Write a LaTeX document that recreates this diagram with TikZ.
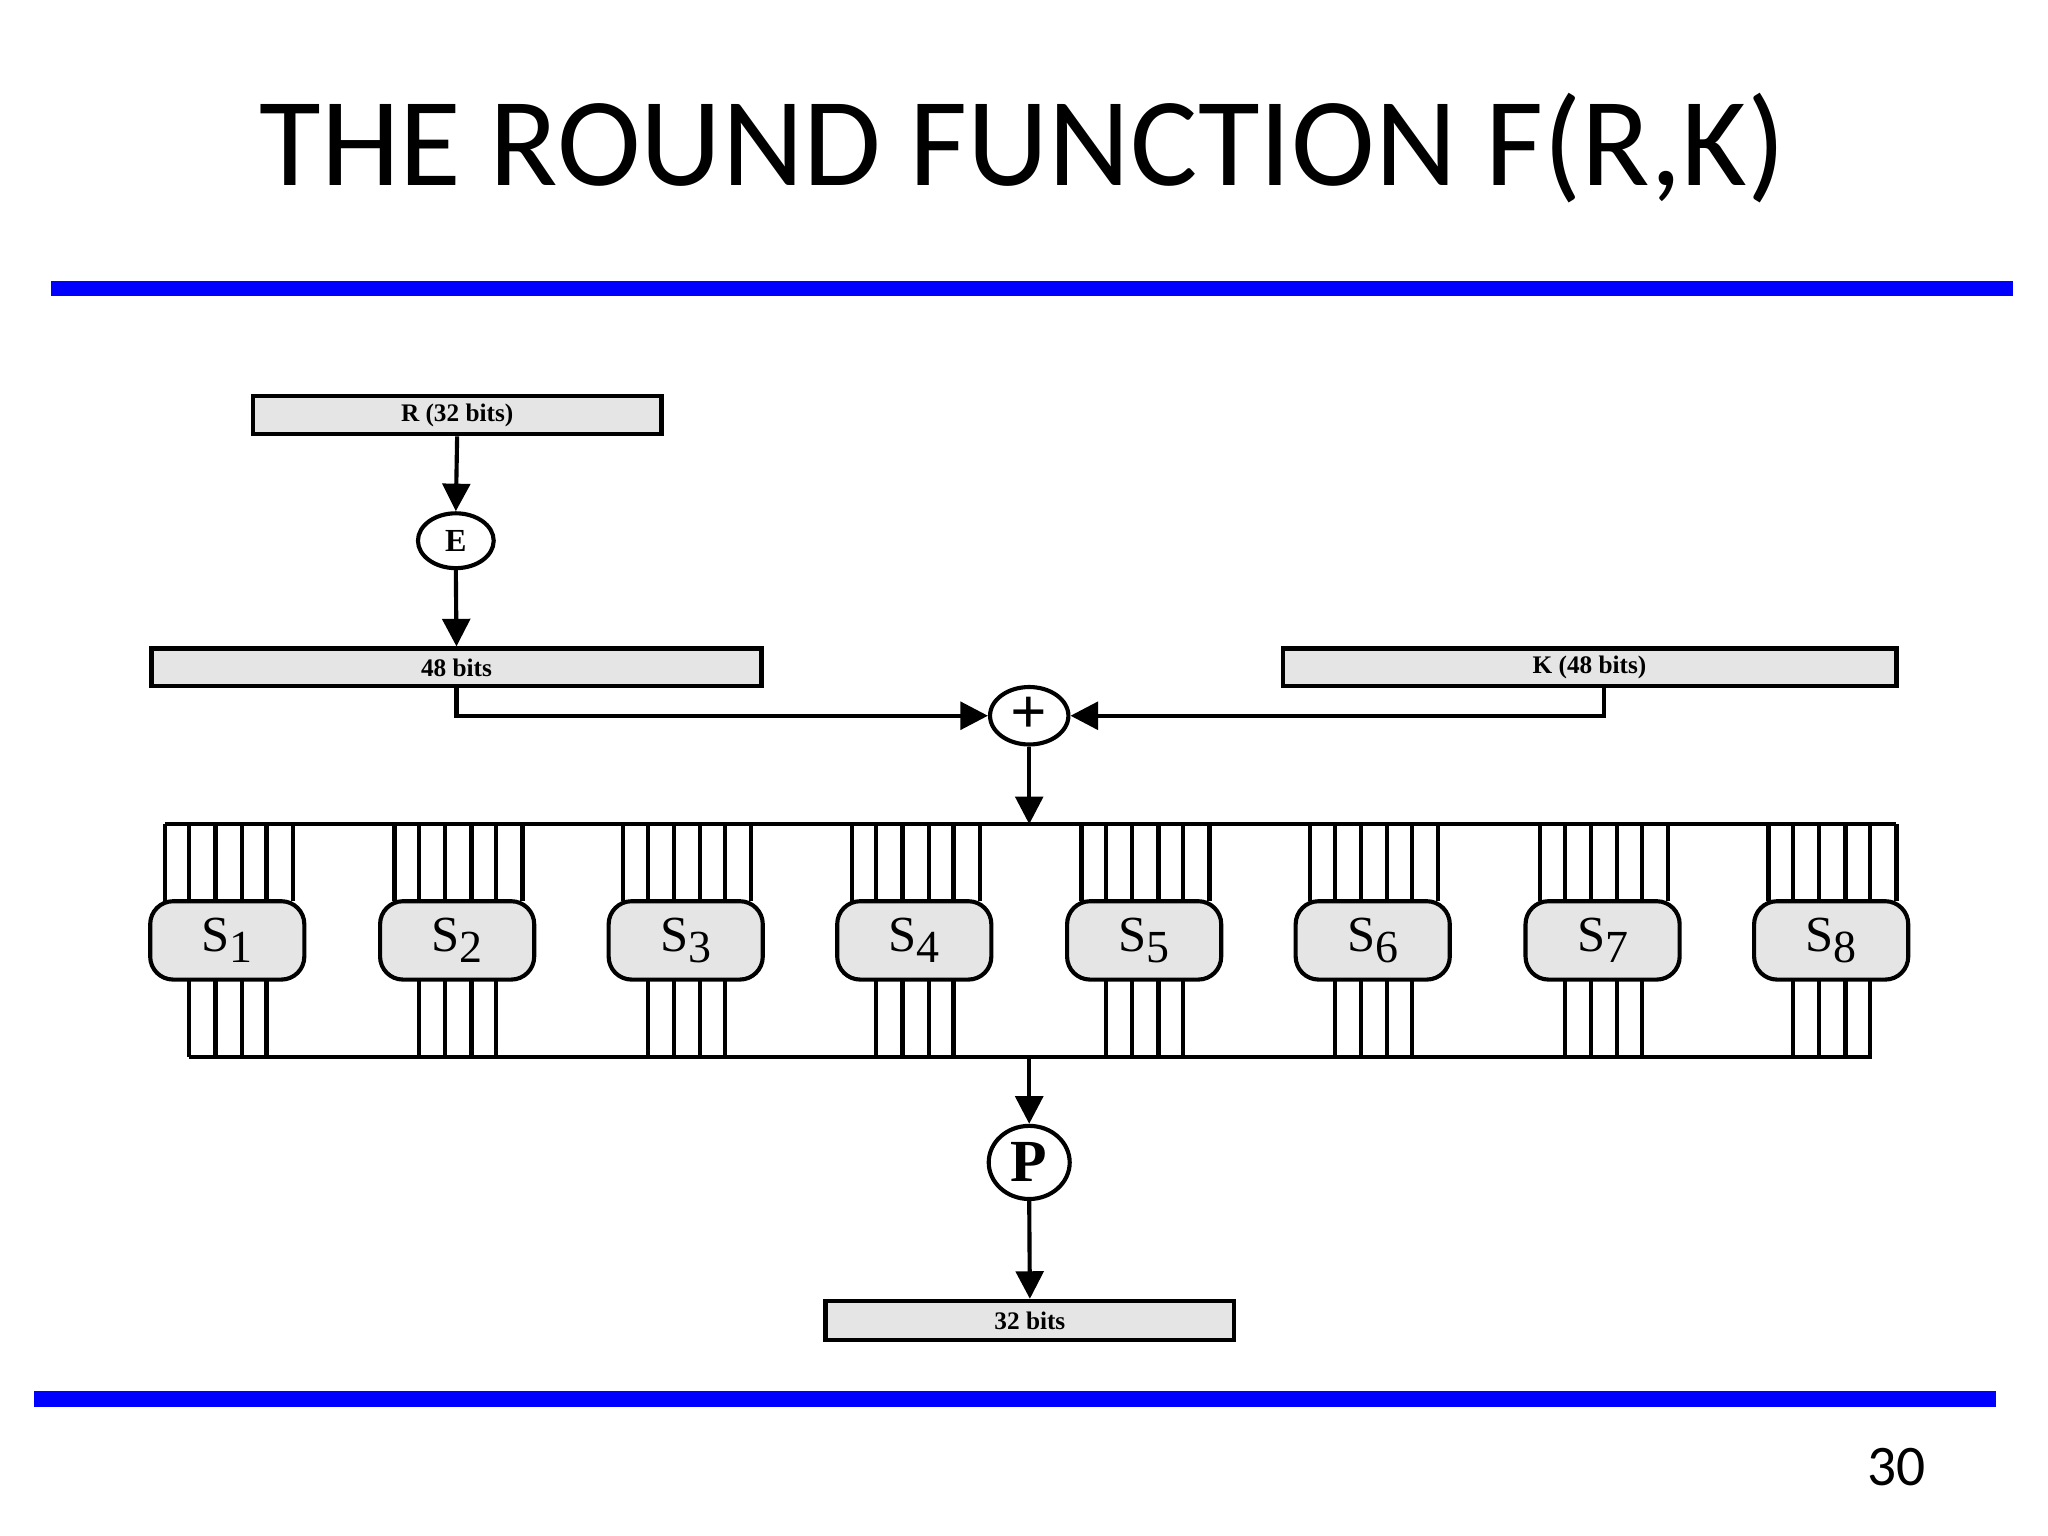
\documentclass[tikz,border=0pt]{standalone}
\usepackage{fontspec}
\setmainfont{Liberation Serif}
\newfontfamily\calib{Carlito}
\usetikzlibrary{arrows.meta,shapes.geometric}
\begin{document}
\begin{tikzpicture}[x=0.01cm,y=-0.01cm,
  lw/.style={line width=0.9pt},
  box/.style={lw,draw,fill=black!10,inner sep=0pt,font=\bfseries\fontsize{5.5}{6}\selectfont},
  circ/.style={lw,draw,shape=ellipse,fill=white,inner sep=0pt,font=\bfseries},
  arr/.style={lw,-{Triangle[length=6pt,width=6pt]}},
  sbox/.style={lw,draw,fill=black!10,rounded corners=5pt,minimum width=118*0.01cm,minimum height=60*0.01cm,inner sep=0pt,font=\fontsize{11}{12}\selectfont}]
\useasboundingbox (0,0) rectangle (1568,1176);
\node[font=\calib\fontsize{27.5}{30}\selectfont] (title) at (783,113) {THE ROUND FUNCTION F(R,K)};
\fill[blue] (39,215) rectangle (1541,227);
\fill[blue] (26,1065) rectangle (1528,1077);
\node[font=\calib\fontsize{12.5}{14}\selectfont] (pg) at (1452,1123) {30};
% boxes
\node[box,minimum width=313*0.01cm,minimum height=29*0.01cm] (R) at (350,318) {R (32 bits)};
\node[circ,minimum width=58*0.01cm,minimum height=42*0.01cm,font=\bfseries\fontsize{7}{8}\selectfont] (E) at (349,414) {E};
\node[box,minimum width=467*0.01cm,minimum height=29*0.01cm] (B48) at (349.5,511) {48 bits};
\node[box,minimum width=470*0.01cm,minimum height=29*0.01cm] (K) at (1217,511) {K (48 bits)};
\node[circ,minimum width=60*0.01cm,minimum height=44*0.01cm,font=\bfseries\fontsize{14}{14}\selectfont] (X) at (788,548) {+};
\node[circ,minimum width=62*0.01cm,minimum height=56*0.01cm,font=\bfseries\fontsize{13}{14}\selectfont] (P) at (788,890) {P};
\node[box,minimum width=313*0.01cm,minimum height=30*0.01cm] (B32) at (788.5,1011) {32 bits};
\coordinate (top) at (788,631);
\coordinate (bot) at (788,809);
\coordinate (kd) at (1228,525);
% connectors
\draw[arr] (R.south) -- (E.north);
\draw[arr] (E.south) -- (B48.north);
\draw[arr] (B48.south) |- (X.west);
\draw[arr] (kd) |- (X.east);
\draw[arr] (X.south) -- (top);
\draw[arr] (bot) -- (P.north);
\draw[arr] (P.south) -- (B32.north);
% bars
\draw[lw] (126,631) -- (1452,631);
\draw[lw] (145,809) -- (1433,809);
\foreach \i/\c in {1/174,2/350,3/525,4/700,5/876,6/1051,7/1227,8/1402}{
  \foreach \d in {-48,-29,-9,11,30,50}{\draw[lw] (\c+\d,631) -- (\c+\d,690);}
  \foreach \d in {-29,-9,11,30}{\draw[lw] (\c+\d,750) -- (\c+\d,809);}
  \node[sbox] (S\i) at (\c,720) {S\raisebox{-2.5pt}{\fontsize{10}{11}\selectfont\i}};
}
\end{tikzpicture}
\end{document}
